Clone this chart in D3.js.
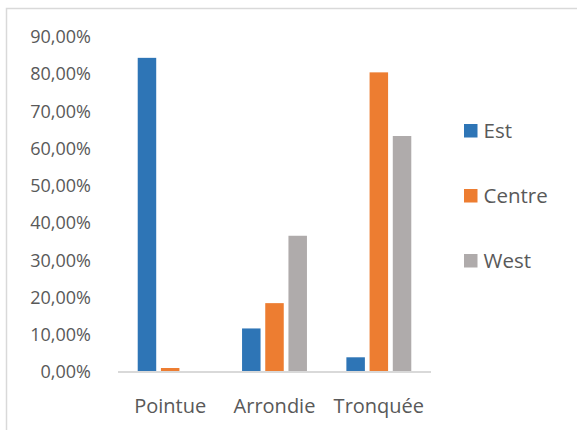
<!DOCTYPE html>
<html>
<head>
<meta charset="utf-8">
<script src="https://cdn.jsdelivr.net/npm/d3@7/dist/d3.min.js"></script>
<style>
  html, body { margin: 0; padding: 0; background: #fff; }
  svg { display: block; }
  text { font-family: "Open Sans", "Noto Sans", sans-serif; fill: #595959; }
</style>
</head>
<body>
<svg id="chart" width="577" height="430"></svg>
<script>
// Shape categories and the share of each region (in %)
const categories = ["Pointue", "Arrondie", "Tronquée"];
const seriesNames = ["Est", "Centre", "West"];
const estValues = [84.4, 11.7, 3.95];
const centreValues = [1.07, 18.5, 80.5];
const westValues = [0, 36.6, 63.4];
const yTicks = [0, 10, 20, 30, 40, 50, 60, 70, 80, 90];
const colors = ["#2E75B6", "#ED7D31", "#AFABAB"];

const seriesValues = [estValues, centreValues, westValues];

const svg = d3.select("#chart");

// Outer chart frame (only its top and left edges fall inside the view)
svg.append("path")
  .attr("d", "M6.5,430 L6.5,8.5 L577,8.5")
  .attr("fill", "none")
  .attr("stroke", "#D9D9D9")
  .attr("stroke-width", 1.5);

const plot = { left: 118, right: 431, top: 37, bottom: 372 };

const x = d3.scaleBand()
  .domain(categories)
  .range([plot.left, plot.right]);

const y = d3.scaleLinear()
  .domain([0, 90])
  .range([plot.bottom, plot.top]);

const barWidth = 18.5;
const barStep = 23.2;
const inner = d3.scaleBand()
  .domain(seriesNames)
  .range([0, barStep * 3]);

// Y axis labels (no axis line, no gridlines)
const yAxis = d3.axisLeft(y)
  .tickValues(yTicks)
  .tickSize(0)
  .tickPadding(0)
  .tickFormat(d => d3.format(".2f")(d).replace(".", ",") + "%");

svg.append("g")
  .attr("transform", "translate(91,0)")
  .call(yAxis)
  .call(g => g.select(".domain").remove())
  .selectAll("text")
  .attr("font-size", 18)
  .attr("font-family", "\"Open Sans\", sans-serif")
  .attr("fill", "#595959");

// Bars
const groups = svg.append("g")
  .selectAll("g")
  .data(seriesNames)
  .join("g")
  .attr("fill", (d, i) => colors[i]);

groups.selectAll("rect")
  .data((s, si) => categories.map((c, ci) => ({ cat: c, series: s, value: seriesValues[si][ci] })))
  .join("rect")
  .attr("x", d => x(d.cat) + x.bandwidth() / 2 - barStep * 1.5 + inner(d.series) + (barStep - barWidth) / 2)
  .attr("width", barWidth)
  .attr("y", d => y(d.value))
  .attr("height", d => y(0) - y(d.value));

// Category axis baseline
const xAxis = d3.axisBottom(x).tickSize(0).tickPadding(0);
svg.append("g")
  .attr("transform", `translate(0,${plot.bottom})`)
  .call(xAxis)
  .call(g => g.select(".domain")
    .attr("stroke", "#D9D9D9")
    .attr("stroke-width", 2)
    .attr("d", `M${plot.left},0H${plot.right}`))
  .selectAll("text")
  .attr("y", 41)
  .attr("dy", 0)
  .attr("font-size", 20)
  .attr("font-family", "\"Open Sans\", sans-serif")
  .attr("fill", "#595959");

// Legend
const legend = svg.append("g")
  .selectAll("g")
  .data(seriesNames)
  .join("g")
  .attr("transform", (d, i) => `translate(464,${124 + i * 65})`);

legend.append("rect")
  .attr("width", 13.5)
  .attr("height", 13.5)
  .attr("fill", (d, i) => colors[i]);

legend.append("text")
  .attr("x", 19.5)
  .attr("y", 7)
  .attr("dy", "0.35em")
  .attr("font-size", 20.5)
  .text(d => d);
</script>
</body>
</html>
